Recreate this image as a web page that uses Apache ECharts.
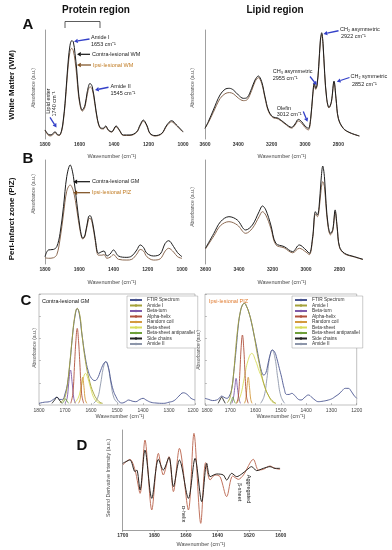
<!DOCTYPE html>
<html><head><meta charset="utf-8">
<script src="https://cdn.jsdelivr.net/npm/echarts@6/dist/echarts.min.js"></script>
<style>html,body{margin:0;padding:0;background:#fff}#c{width:392px;height:550px}</style>
</head><body><div id="c"></div>
<script>
// ---------- Panel A (White Matter) protein region ----------
const wnAL = [1800,1785,1771,1757,1742,1728,1717,1703,1694,1684,1674,1665,1655,1645,1636,1626,1616,1607,1597,1584,1568,1555,1539,1526,1510,1497,1481,1462,1448,1433,1413,1388,1369,1346,1307,1268,1249,1230,1210,1191,1162,1123,1094,1066,1037,1000];
const contraAL = [8.3,5,3.7,4.5,6.7,4.2,3.7,8.3,17.4,32.7,54,72.5,86,90.2,89.3,78.5,63.3,45,32.7,26.6,31.2,43.4,51,48,32.7,19,10.7,9.8,12,8.3,6.7,12,8.3,3.7,3.7,6.7,12.8,17.4,12.8,5.2,3.1,5.2,12.8,16.8,12.8,6.7];
const ipsiAL = [8,4,2.8,3.5,6,3.5,3.2,7.5,16,30.5,51,68,80.5,83.2,81,72,58,42,31,25.5,29.5,41,48,45.5,31,18,10,9.2,11.3,7.8,6.3,11.3,7.8,3.2,3.2,6.2,12,16.5,12,4.8,2.7,4.8,12,15.8,12,6.3];
// ---------- Panel A lipid region ----------
const wnAR = [3600,3580,3550,3510,3480,3454,3430,3400,3370,3346,3320,3300,3280,3260,3240,3220,3194,3160,3120,3080,3060,3040,3020,3000,2980,2966,2954,2944,2936,2928,2918,2908,2900,2892,2882,2870,2856,2842,2826,2814,2800,2770,2730,2674];
const contraAR = [9.8,15.9,26.6,40.4,45.6,46.5,45,40.4,37.3,38.2,46.5,54.1,57.8,52.6,38.8,26.6,20.5,19,14.4,10.7,13.8,18,15.9,11.9,9.8,19,40.4,51.7,46.5,49.5,66.3,90.8,97.5,87.8,60.3,37.3,29,34.2,53.2,37.3,19,9.8,5.8,2.8];
const ipsiAR = [9.8,15,24.5,37,41.5,42.6,41.5,37.5,35.2,36.2,44.5,52.5,56.3,51,37.5,25.5,19.8,18.3,13.8,10,12.8,16.5,14.5,10.5,8.3,18,39,50,45.5,48.5,65,89,96,86.5,59,36.5,28.5,33.5,52,36.5,18.5,9.5,5.6,2.7];
// ---------- Panel B (PIZ) protein region ----------
const wnBL = [1800,1780,1751,1731,1712,1692,1673,1653,1634,1614,1595,1579,1566,1546,1537,1523,1507,1488,1468,1455,1439,1420,1400,1371,1322,1293,1264,1244,1225,1205,1166,1127,1098,1078,1049,1026,1000];
const contraBL = [7,13.5,14,16.7,29.5,55.1,84,95.2,84,58.3,34.3,24.7,28,45.5,46.5,40.7,24.7,10.3,11.9,12.5,7.7,9.6,13.5,7.7,6.4,7.7,13.5,18.3,16,10.3,7.7,9.6,19.9,22.4,16.7,10.9,7];
const ipsiBL = [6,5.5,6,9,24,48,70,76,70,52,32,24,27,43,44,38.5,22.5,8.5,8.5,9,5.5,6.5,9,4.5,3.8,4.5,9.5,14,12.5,7,3.8,5,12.5,15.1,11.5,7,5.4];
// ---------- Panel B lipid region ----------
const wnBR = [3600,3550,3510,3460,3410,3360,3320,3280,3260,3240,3210,3180,3130,3080,3040,3000,2980,2960,2944,2932,2922,2910,2900,2890,2880,2868,2854,2840,2826,2814,2800,2770,2710,2660];
const contraBR = [15.1,29.5,40.7,45.5,42.3,32.7,37.5,50.3,55.8,52,37.5,19.9,16.7,11.9,18.3,13.5,10.3,26.3,50.3,47.1,55.1,80.8,94.2,84,58.3,37.5,29.5,33.3,52,35.9,16.7,10.3,7,4.5];
const ipsiBR = [14.5,27,37,40.7,37.5,29.5,34.3,45.5,50.3,47,34.5,18.5,15.5,10.8,15.1,11.5,9,24.5,48,45.5,52,71,79.2,74.3,54,35.5,28,32,50,34.5,16,9.8,6.7,4.3];
// ---------- Panel C left (Contra-lesional GM) ----------
const cL_ftirWn = [1800,1780,1760,1745,1731,1720,1710,1700,1690,1680,1670,1660,1653,1645,1635,1622,1610,1598,1585,1575,1563,1552,1543,1533,1524,1514,1504,1492,1480,1467,1455,1442,1428,1412,1400,1388,1370,1350,1322,1300,1280,1262,1245,1230,1215,1200];
const cL_ftir = [1.5,2.5,3,5,7,5,5,10,20,40,65,82,87,82,64,43,30,24,22,24,31,37,39,34,22.5,13,7.5,3,1.8,3,4.5,3.5,3,5,6,4.5,2.5,1.8,1.5,2.5,4,8,11,9.5,6,4.5];
const cL_amide1Wn = [1720,1705,1695,1686,1673,1663,1653,1643,1634,1621,1608,1589,1569,1555];
const cL_amide1 = [2,5,12,28,58,79,87,81,62,39,24,10,3,1.5];
const cL_turnWn = [1700,1692,1686,1679,1672,1666,1660];
const cL_turn = [1.5,6,19,31.5,19,6,1.5];
const cL_helixWn = [1678,1670,1663,1658,1653,1648,1643,1636,1628];
const cL_helix = [1.5,10,38,58,69,58,38,10,1.5];
const cL_coilWn = [1648,1642,1637,1632,1627,1622,1616];
const cL_coil = [1.5,5,16,25,16,5,1.5];
const cL_sheetWn = [1665,1650,1640,1630,1621,1612,1600,1590,1575,1560];
const cL_sheet = [1.5,6,14,24,28.5,24,14,7,2.5,1.5];
const cL_antiWn = [1710,1704,1698,1692,1686];
const cL_anti = [1.5,3.5,5.5,3.5,1.5];
const cL_sideWn = [1750,1740,1731,1722,1712];
const cL_side = [1.5,4.5,7,4.5,1.5];
const cL_amide2Wn = [1590,1575,1563,1553,1543,1533,1523,1511,1495];
const cL_amide2 = [1.5,6,19,33,39,33,19,6,1.5];
// ---------- Panel C right (Ipsi-lesional PIZ) ----------
const cR_ftirWn = [1800,1785,1770,1754,1742,1734,1725,1714,1704,1694,1686,1677,1668,1660,1652,1644,1636,1626,1616,1606,1596,1586,1576,1568,1560,1550,1542,1534,1525,1516,1506,1497,1487,1477,1467,1457,1445,1430,1420,1405,1391,1378,1365,1352,1332,1312,1295,1286,1270,1255,1245,1233,1222,1212,1200];
const cR_ftir = [6,5,4,4.5,6.5,8,7,6,8,15,30,50,72,84,90,91.6,89,83,74,63,52.5,40,30,27,28.5,38,45.5,49.5,48,42,33,25,15,9.5,9.5,10.5,8.5,5,4.5,7,9,7,4.5,3,3.5,4.5,6,7.5,10,13.5,15,15,12.5,9,6];
const cR_amide1Wn = [1712,1702,1694,1686,1681,1672,1662,1652,1644,1636,1626,1615,1605,1596,1586,1576,1563,1550,1535,1520];
const cR_amide1 = [2,6,15,30,44,66,82,90,91.6,89,83,73.6,62,49.5,38,27,16,9,4,1.5];
const cR_turnWn = [1694,1688,1682,1677,1672,1666,1660];
const cR_turn = [1.5,6,16,24,16,6,1.5];
const cR_helixWn = [1675,1668,1662,1657,1652,1647,1642,1636,1629];
const cR_helix = [1.5,8,30,52,63,52,30,8,1.5];
const cR_coilWn = [1644,1639,1634,1629,1624,1619,1614];
const cR_coil = [1.5,5,16,25,16,5,1.5];
const cR_sheetWn = [1675,1660,1645,1630,1615,1600,1585,1576,1560,1550,1535,1520];
const cR_sheet = [1.5,8,24,40,46.5,40,30,25,14,9,3,1.5];
const cR_antiWn = [1700,1695,1690,1685,1680];
const cR_anti = [1.5,4,7,4,1.5];
const cR_sideWn = [1748,1741,1734,1727,1720];
const cR_side = [1.5,4.5,7,4.5,1.5];
const cR_amide2Wn = [1580,1566,1555,1545,1534,1523,1512,1500,1485];
const cR_amide2 = [1.5,8,24,42,49.5,42,24,8,1.5];
// ---------- Panel D second derivative ----------
const wnDblack = [1700,1695.4,1692.2,1691.1,1689,1685.9,1681.6,1677.4,1674.3,1670.7,1667.9,1664.1,1658.4,1654.2,1650,1646.8,1644.7,1640.5,1636.3,1634.2,1631,1627.8,1624.7,1621.5,1618.4,1615.2,1611,1606.8,1603.6,1600.4];
const dBlack = [33.3,40,16.7,20,-20,60,-36.7,41.3,20,45.3,-13.3,40,-36.7,43.3,-43.3,33.3,6.7,12,10,0,13.3,6.7,12,20,26.7,18.7,23.3,26.7,23.3,23.3];
const wnDred = [1700,1695.4,1692.2,1689,1685.9,1681.6,1677.4,1674.3,1670.7,1667.9,1664.1,1658.4,1654.9,1650.6,1647.5,1644.7,1641.6,1638.4,1634.2,1630.4,1626.8,1623.6,1617.3,1614.1,1611,1606.8,1603.6,1600.4];
const dRed = [30,41.3,20,-26.7,80,-60,53.3,10,46.7,-23.3,63.3,-60,93.3,-86.7,34.7,0,10,6.7,-33.3,8,1.3,10,41.3,20,21.3,28,23.3,21.3];
// tick labels
const ticksProtein = [1800,1600,1400,1200,1000];
const ticksLipid = [3600,3400,3200,3000,2800];
const legendNames = ['FTIR Spectrum','Amide I','Beta-turn','Alpha-helix','Random coil','Beta-sheet','Beta-sheet antiparallel','Side chains','Amide II'];

const FF = 'Liberation Sans, Arial, sans-serif';
const cContra = '#1e1e1e', cIpsi = '#8c6a52';
const compColor = {'FTIR Spectrum':'#4a5590','Amide I':'#a5a23a','Beta-turn':'#7e5aa8','Alpha-helix':'#b0503c','Random coil':'#d49a3e','Beta-sheet':'#d8dc5a','Beta-sheet antiparallel':'#6fa03a','Side chains':'#222222','Amide II':'#8d96aa'};

function pairs(xs, ys){ return xs.map((x,i)=>[x, ys[i]]); }
function line(name, xi, xs, ys, color, w, sm){
  return {type:'line', name, xAxisIndex:xi, yAxisIndex:xi, data:pairs(xs,ys), symbol:'none', showSymbol:false,
    smooth: sm==null?0.35:sm, lineStyle:{color, width:w||1}, itemStyle:{color}, silent:true};
}
const plain = v => String(v);
const axLab = {fontSize:5, fontWeight:'bold', color:'#333', margin:3, fontFamily:FF, formatter:plain};
function xAx(i, min, max, interval, opt){
  return Object.assign({type:'value', gridIndex:i, inverse:true, min, max, interval,
    axisLabel:Object.assign({}, axLab), axisTick:{show:false}, splitLine:{show:false},
    axisLine:{show:false, onZero:false}}, opt||{});
}
function yAx(i, min, max, opt){
  return Object.assign({type:'value', gridIndex:i, min, max, axisLabel:{show:false}, axisTick:{show:false},
    splitLine:{show:false}, axisLine:{show:true, onZero:false, lineStyle:{color:'#888', width:0.8}}}, opt||{});
}
function txt(text, x, y, o){
  o = o || {};
  const el = {type:'text', x, y, silent:true, z:100, style:{text, fontSize:o.size||5.5, fill:o.color||'#222',
    fontFamily:FF, fontWeight:o.weight||'normal', align:o.align||'left', verticalAlign:'middle'}};
  if (o.rot != null) el.rotation = o.rot;
  return el;
}
function arrow(x1,y1,x2,y2,color,w){
  const a = Math.atan2(y2-y1, x2-x1), L = 3.8, H = 2.2;
  const bx = x2 - L*Math.cos(a), by = y2 - L*Math.sin(a);
  const px = -Math.sin(a)*H, py = Math.cos(a)*H;
  return [{type:'line', silent:true, z:100, shape:{x1,y1,x2:bx,y2:by}, style:{stroke:color, lineWidth:w||1.2}},
          {type:'polygon', silent:true, z:100, shape:{points:[[x2,y2],[bx+px,by+py],[bx-px,by-py]]}, style:{fill:color}}];
}

const series = [
  line('Ipsi WM', 0, wnAL, ipsiAL, cIpsi), line('Contra WM', 0, wnAL, contraAL, cContra),
  line('Ipsi WM L', 1, wnAR, ipsiAR, cIpsi), line('Contra WM L', 1, wnAR, contraAR, cContra),
  line('Ipsi PIZ', 2, wnBL, ipsiBL, cIpsi), line('Contra GM', 2, wnBL, contraBL, cContra),
  line('Ipsi PIZ L', 3, wnBR, ipsiBR, cIpsi), line('Contra GM L', 3, wnBR, contraBR, cContra),
];
function compSeries(xi, d){
  const order = [['Amide II',d.amide2Wn,d.amide2],['FTIR Spectrum',d.ftirWn,d.ftir],['Beta-sheet',d.sheetWn,d.sheet],
    ['Random coil',d.coilWn,d.coil],['Beta-turn',d.turnWn,d.turn],['Side chains',d.sideWn,d.side],
    ['Beta-sheet antiparallel',d.antiWn,d.anti],['Alpha-helix',d.helixWn,d.helix],['Amide I',d.amide1Wn,d.amide1]];
  order.forEach(([n,xs,ys])=>series.push(line(n, xi, xs, ys, compColor[n], 0.9, 0.45)));
}
compSeries(4, {ftirWn:cL_ftirWn, ftir:cL_ftir, amide1Wn:cL_amide1Wn, amide1:cL_amide1, turnWn:cL_turnWn, turn:cL_turn,
  helixWn:cL_helixWn, helix:cL_helix, coilWn:cL_coilWn, coil:cL_coil, sheetWn:cL_sheetWn, sheet:cL_sheet,
  antiWn:cL_antiWn, anti:cL_anti, sideWn:cL_sideWn, side:cL_side, amide2Wn:cL_amide2Wn, amide2:cL_amide2});
compSeries(5, {ftirWn:cR_ftirWn, ftir:cR_ftir, amide1Wn:cR_amide1Wn, amide1:cR_amide1, turnWn:cR_turnWn, turn:cR_turn,
  helixWn:cR_helixWn, helix:cR_helix, coilWn:cR_coilWn, coil:cR_coil, sheetWn:cR_sheetWn, sheet:cR_sheet,
  antiWn:cR_antiWn, anti:cR_anti, sideWn:cR_sideWn, side:cR_side, amide2Wn:cR_amide2Wn, amide2:cR_amide2});
series.push(line('Ipsi D', 6, wnDred, dRed, '#c0735e', 1, 0.3));
series.push(line('Contra D', 6, wnDblack, dBlack, '#2a2420', 1, 0.3));

const lipidFmt = v => ticksLipid.indexOf(v) >= 0 ? String(v) : '';
const protFmt = v => ticksProtein.indexOf(v) >= 0 ? String(v) : '';
const boxTick = {show:true, inside:true, length:2, lineStyle:{color:'#888', width:0.5}};
const cLabBase = Object.assign({}, axLab, {fontWeight:'normal', color:'#444'});
const cLabLeft = Object.assign({}, cLabBase, {
  formatter: v => v === 1200 ? '{r|' + v + '}' : String(v),
  rich:{r:{fontSize:5, color:'#444', fontFamily:FF, padding:[0,4,0,0]}}});
const cLabRight = Object.assign({}, cLabBase, {
  formatter: v => v === 1800 ? '{l|' + v + '}' : String(v),
  rich:{l:{fontSize:5, color:'#444', fontFamily:FF, padding:[0,0,0,4]}}});

const xAxis = [
  xAx(0, 1000, 1800, 200, {axisLabel:Object.assign({}, axLab, {formatter:protFmt})}),
  xAx(1, 2600, 3600, 200, {axisLabel:Object.assign({}, axLab, {formatter:lipidFmt})}),
  xAx(2, 1000, 1800, 200, {axisLabel:Object.assign({}, axLab, {formatter:protFmt})}),
  xAx(3, 2600, 3600, 200, {axisLabel:Object.assign({}, axLab, {formatter:lipidFmt})}),
  xAx(4, 1200, 1800, 100, {axisTick:boxTick, axisLabel:cLabLeft}),
  xAx(5, 1200, 1800, 100, {axisTick:boxTick, axisLabel:cLabRight}),
  xAx(6, 1600, 1700, 20, {axisTick:{show:true, length:2, lineStyle:{color:'#777', width:0.6}},
      axisLine:{show:true, onZero:false, lineStyle:{color:'#888', width:0.8}}}),
];
const yAxis = [
  yAx(0, 0, 100), yAx(1, 0, 100), yAx(2, 0, 100), yAx(3, 0, 100),
  yAx(4, 0, 100, {interval:20, axisTick:boxTick, axisLine:{show:false}}),
  yAx(5, 0, 100, {interval:20, axisTick:boxTick, axisLine:{show:false}}),
  yAx(6, -100, 100),
];
const grid = [
  {left:45, top:30, width:138, height:109},
  {left:205, top:30, width:166.7, height:109},
  {left:45, top:160, width:137, height:104},
  {left:205.5, top:160, width:167.5, height:104},
  {left:39, top:294, width:156, height:111, show:true, borderColor:'#999', borderWidth:0.6, backgroundColor:'transparent'},
  {left:205, top:294, width:151.7, height:111, show:true, borderColor:'#999', borderWidth:0.6, backgroundColor:'transparent'},
  {left:122.7, top:430, width:158, height:100},
];
function legendAt(left){
  return {data:legendNames, orient:'vertical', left, top:296, itemWidth:12, itemHeight:3, itemGap:0.5,
    padding:[1.5,3,1.5,2], borderColor:'#999', borderWidth:0.5, backgroundColor:'#fff', selectedMode:false,
    textStyle:{fontSize:4.8, lineHeight:5, color:'#333', fontFamily:FF}};
}
const blue = '#3340c8', brownArrow = '#7a4a1a', ipsiText = '#c07a20';
const wn = 'Wavenumber (cm\u207B\u00B9)';
const cm = ' cm\u207B\u00B9';
const R = Math.PI/2;
const graphic = [
  txt('Protein region', 96, 10, {size:10, weight:'bold', align:'center', color:'#111'}),
  txt('Lipid region', 275, 10, {size:10, weight:'bold', align:'center', color:'#111'}),
  txt('A', 28, 25, {size:15, weight:'bold', align:'center', color:'#111'}),
  txt('B', 28, 159, {size:15, weight:'bold', align:'center', color:'#111'}),
  txt('C', 26, 301, {size:15, weight:'bold', align:'center', color:'#111'}),
  txt('D', 82, 446, {size:15, weight:'bold', align:'center', color:'#111'}),
  txt('White Matter (WM)', 12, 85, {size:8, weight:'bold', align:'center', rot:R, color:'#111'}),
  txt('Peri-infarct zone (PIZ)', 12, 219, {size:8, weight:'bold', align:'center', rot:R, color:'#111'}),
  {type:'polyline', silent:true, shape:{points:[[65,28],[65,21.5],[100,21.5],[100,28]]}, style:{stroke:'#333', lineWidth:0.8, fill:null}},
  txt('Absorbance (a.u.)', 34, 88, {size:5, align:'center', rot:R, color:'#555'}),
  txt('Absorbance (a.u.)', 193, 88, {size:5, align:'center', rot:R, color:'#555'}),
  txt('Absorbance (a.u.)', 34, 194, {size:5, align:'center', rot:R, color:'#555'}),
  txt('Absorbance (a.u.)', 193, 207, {size:5, align:'center', rot:R, color:'#555'}),
  txt('Absorbance (a.u.)', 35, 348, {size:5, align:'center', rot:R, color:'#555'}),
  txt('Absorbance (a.u.)', 199, 350, {size:5, align:'center', rot:R, color:'#555'}),
  txt('Second Derivative Intensity (a.u.)', 109, 478, {size:5.3, align:'center', rot:R, color:'#444'}),
  txt(wn, 112, 156.5, {size:5.5, align:'center', color:'#444'}),
  txt(wn, 282, 156.5, {size:5.5, align:'center', color:'#444'}),
  txt(wn, 112, 282, {size:5.5, align:'center', color:'#444'}),
  txt(wn, 282, 282, {size:5.5, align:'center', color:'#444'}),
  txt(wn, 120, 416.5, {size:5.5, align:'center', color:'#444'}),
  txt(wn, 281, 416.5, {size:5.5, align:'center', color:'#444'}),
  txt(wn, 201, 544, {size:5.5, align:'center', color:'#444'}),
  // Panel A left annotations
  txt('Amide I', 91, 37), txt('1653' + cm, 91, 44),
  ...arrow(89.5, 39, 74, 41.5, blue, 1.4),
  txt('Contra-lesional WM', 92, 54.3),
  ...arrow(90, 54.3, 77, 54.3, '#111', 1.2),
  txt('Ipsi-lesional WM', 93, 65, {color:ipsiText}),
  ...arrow(91, 65, 77, 65, brownArrow, 1.2),
  txt('Amide II', 110.5, 86), txt('1545' + cm, 110.5, 93.3),
  ...arrow(108.5, 87.3, 95, 90, blue, 1.4),
  txt('Lipid ester', 48.3, 101, {align:'center', rot:R}),
  txt('1740' + cm, 54.2, 104, {align:'center', rot:R}),
  ...arrow(50, 117.3, 56.5, 127.5, blue, 1.3),
  // Panel A right annotations
  txt('CH\u2082 asymmetric', 340, 29.5), txt('2922' + cm, 341, 36.5),
  ...arrow(338.5, 30.7, 323.5, 34, blue, 1.4),
  txt('CH\u2083 asymmetric', 272.7, 71.7), txt('2955' + cm, 272.7, 78.5),
  ...arrow(310, 76.5, 316.8, 85, blue, 1.3),
  txt('CH\u2082 symmetric', 350.5, 76.7), txt('2852' + cm, 352, 84),
  ...arrow(349.5, 77.5, 336.8, 81.7, blue, 1.3),
  txt('Olefin', 276.7, 108.3), txt('3012' + cm, 276.7, 114.5),
  ...arrow(303.3, 111.5, 307.5, 121.8, blue, 1.3),
  // Panel B annotations
  txt('Contra-lesional GM', 92, 181.7),
  ...arrow(90, 181.7, 73.3, 181.7, '#111', 1.2),
  txt('Ipsi-lesional PIZ', 92, 192.7, {color:ipsiText}),
  ...arrow(90, 192.7, 73.3, 192.7, brownArrow, 1.2),
  // Panel C titles
  txt('Contra-lesional GM', 42, 301.5, {color:'#111'}),
  txt('Ipsi-lesional PIZ', 209, 301.5, {color:'#e07b30'}),
  // Panel D labels
  txt('\u03B1-helix', 184, 514, {align:'center', rot:-R}),
  txt('\u03B2-sheet', 240, 492, {align:'center', rot:-R}),
  txt('Aggregated', 248.5, 489, {align:'center', rot:-R}),
];

const chart = echarts.init(document.getElementById('c'), null, {renderer:'canvas'});
chart.setOption({
  animation:false, backgroundColor:'#fff',
  grid, xAxis, yAxis, series,
  legend:[legendAt(127), legendAt(292)],
  graphic
});
</script></body></html>
